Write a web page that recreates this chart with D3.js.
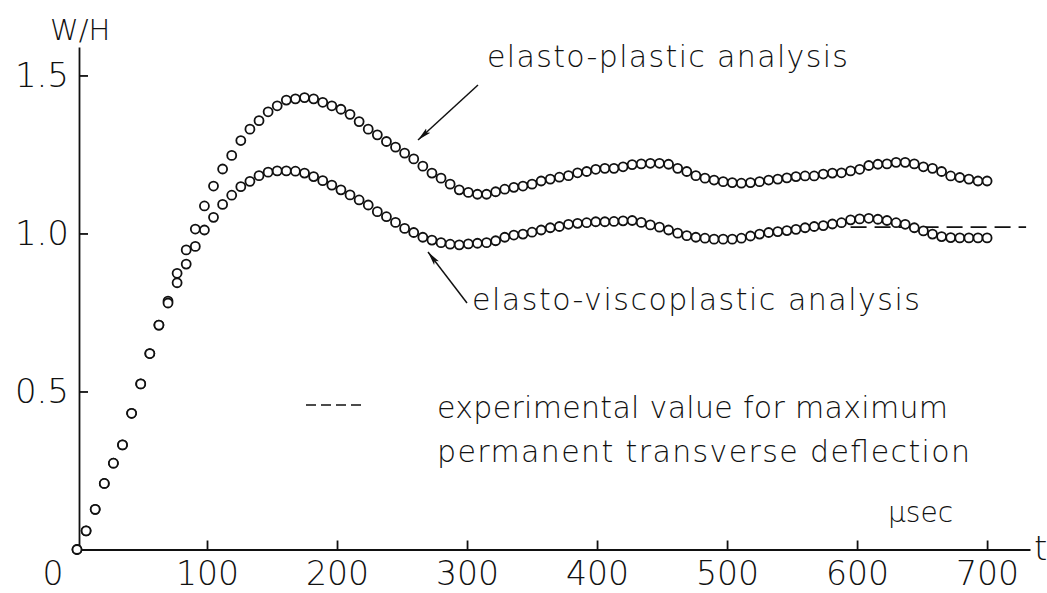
<!DOCTYPE html>
<html>
<head>
<meta charset="utf-8">
<script src="https://cdnjs.cloudflare.com/ajax/libs/d3/7.8.5/d3.min.js"></script>
<style>
  body { margin: 0; background: #fff; }
  svg text { font-family: "DejaVu Sans", sans-serif; font-weight: 200; fill: #111; }
  .axis path, .axis line { stroke: #111; stroke-width: 1.8; }
</style>
</head>
<body>
<div id="chart"></div>
<script>
// time, usec
var times = [0,7,14,21,28,35,42,49,56,63,70,77,84,91,98,105,112,119,126,133,
  140,147,154,161,168,175,182,189,196,203,210,217,224,231,238,245,252,259,266,273,
  280,287,294,301,308,315,322,329,336,343,350,357,364,371,378,385,392,399,406,413,
  420,427,434,441,448,455,462,469,476,483,490,497,504,511,518,525,532,539,546,553,
  560,567,574,581,588,595,602,609,616,623,630,637,644,651,658,665,672,679,686,693,700];

// w/H, elasto-plastic analysis
var elastoPlastic = [0,0.059,0.127,0.209,0.273,0.331,0.431,0.524,0.620,0.710,
  0.786,0.874,0.948,1.014,1.087,1.150,1.204,1.247,1.294,1.330,
  1.357,1.385,1.404,1.422,1.426,1.430,1.426,1.415,1.404,1.393,
  1.377,1.354,1.330,1.312,1.291,1.273,1.254,1.236,1.213,1.191,
  1.175,1.156,1.138,1.130,1.124,1.124,1.132,1.140,1.146,1.150,
  1.156,1.166,1.172,1.178,1.183,1.192,1.196,1.203,1.206,1.206,
  1.211,1.218,1.220,1.222,1.222,1.219,1.206,1.196,1.183,1.175,
  1.169,1.164,1.161,1.159,1.161,1.164,1.169,1.172,1.176,1.180,
  1.182,1.182,1.188,1.191,1.192,1.198,1.203,1.215,1.219,1.220,
  1.225,1.225,1.220,1.211,1.206,1.196,1.182,1.177,1.172,1.166,1.166];

// w/H, elasto-viscoplastic analysis
var elastoVisco = [0,0.059,0.127,0.209,0.273,0.331,0.431,0.524,0.620,0.710,
  0.780,0.844,0.903,0.959,1.011,1.051,1.092,1.121,1.148,1.165,
  1.183,1.194,1.198,1.198,1.197,1.191,1.180,1.167,1.153,1.138,
  1.122,1.106,1.090,1.069,1.053,1.035,1.016,1.003,0.988,0.979,
  0.971,0.966,0.964,0.967,0.969,0.971,0.977,0.988,0.995,0.998,
  1.004,1.011,1.018,1.022,1.029,1.032,1.034,1.037,1.037,1.038,
  1.040,1.041,1.035,1.027,1.020,1.011,1.001,0.993,0.988,0.985,
  0.982,0.982,0.982,0.985,0.992,0.998,1.003,1.006,1.009,1.013,
  1.018,1.022,1.025,1.030,1.034,1.043,1.046,1.048,1.045,1.041,
  1.034,1.029,1.018,1.008,0.998,0.990,0.987,0.986,0.986,0.986,0.986];

// experimental max permanent deflection (dashed)
var experimentalValue = 1.02;
var experimentalSpan = [595, 730];

var xTicks = [100, 200, 300, 400, 500, 600, 700];
var yTicks = [0.5, 1.0, 1.5];

var width = 1047, height = 593;

var svg = d3.select("#chart").append("svg")
  .attr("width", width)
  .attr("height", height);

var x = d3.scaleLinear().domain([0, 733]).range([77, 1030]);
var y = d3.scaleLinear().domain([0, 1.59]).range([549.5, 47]);

// x axis
var xAxis = svg.append("g")
  .attr("class", "axis")
  .attr("transform", "translate(0," + y(0) + ")")
  .call(d3.axisBottom(x).tickValues(xTicks).tickSize(-9).tickSizeOuter(0).tickPadding(12));
xAxis.selectAll("text").style("font-size", "33px");
xAxis.append("text")
  .attr("x", 53).attr("y", 12).attr("dy", "0.71em")
  .attr("text-anchor", "middle")
  .style("font-size", "33px")
  .text("0");

// y axis
var yAxis = svg.append("g")
  .attr("class", "axis")
  .attr("transform", "translate(" + 79 + ",0)")
  .call(d3.axisLeft(y).tickValues(yTicks).tickSize(-9).tickSizeOuter(0).tickPadding(10).tickFormat(d3.format(".1f")));
yAxis.selectAll("text").style("font-size", "34px");

// axis titles
svg.append("text").attr("x", 50).attr("y", 40).style("font-size", "29px").text("W/H");
svg.append("text").attr("x", 888).attr("y", 522).style("font-size", "28px").text("\u00b5sec");
svg.append("text").attr("x", 1034).attr("y", 560).style("font-size", "34px").text("t");

// experimental dashed line
svg.append("line")
  .attr("x1", x(experimentalSpan[0])).attr("x2", x(experimentalSpan[1]))
  .attr("y1", y(experimentalValue)).attr("y2", y(experimentalValue))
  .attr("stroke", "#111").attr("stroke-width", 1.6)
  .attr("stroke-dasharray", "16,8");

// series
var series = [elastoPlastic, elastoVisco];
series.forEach(function(vals){
  svg.append("g")
    .selectAll("circle")
    .data(vals)
    .enter()
    .append("circle")
    .attr("cx", function(d, i){ return x(times[i]); })
    .attr("cy", function(d){ return y(d); })
    .attr("r", 4.5)
    .attr("fill", "#fff")
    .attr("stroke", "#111")
    .attr("stroke-width", 1.8);
});

// arrows
svg.append("defs").append("marker")
  .attr("id", "arr")
  .attr("viewBox", "0 -4 14 8")
  .attr("refX", 14).attr("refY", 0)
  .attr("markerWidth", 14).attr("markerHeight", 8)
  .attr("markerUnits", "userSpaceOnUse")
  .attr("orient", "auto")
  .append("path")
  .attr("d", "M0,-3L14,0L0,3L3,0Z")
  .attr("fill", "#111");

svg.append("line")
  .attr("x1", 478).attr("y1", 85).attr("x2", 418).attr("y2", 140)
  .attr("stroke", "#111").attr("stroke-width", 1.5)
  .attr("marker-end", "url(#arr)");
svg.append("line")
  .attr("x1", 467).attr("y1", 303).attr("x2", 428).attr("y2", 252)
  .attr("stroke", "#111").attr("stroke-width", 1.5)
  .attr("marker-end", "url(#arr)");

// annotations
svg.append("text").attr("x", 487).attr("y", 67).style("font-size", "30px")
  .attr("textLength", 361).text("elasto-plastic analysis");
svg.append("text").attr("x", 472).attr("y", 310).style("font-size", "30px")
  .attr("textLength", 448).text("elasto-viscoplastic analysis");

// legend
svg.append("line")
  .attr("x1", 306).attr("x2", 361).attr("y1", 405).attr("y2", 405)
  .attr("stroke", "#111").attr("stroke-width", 1.6)
  .attr("stroke-dasharray", "10,5");
svg.append("text").attr("x", 437).attr("y", 418).style("font-size", "30px")
  .attr("textLength", 511).text("experimental value for maximum");
svg.append("text").attr("x", 437).attr("y", 462).style("font-size", "30px")
  .attr("textLength", 533).text("permanent transverse deflection");
</script>
</body>
</html>
